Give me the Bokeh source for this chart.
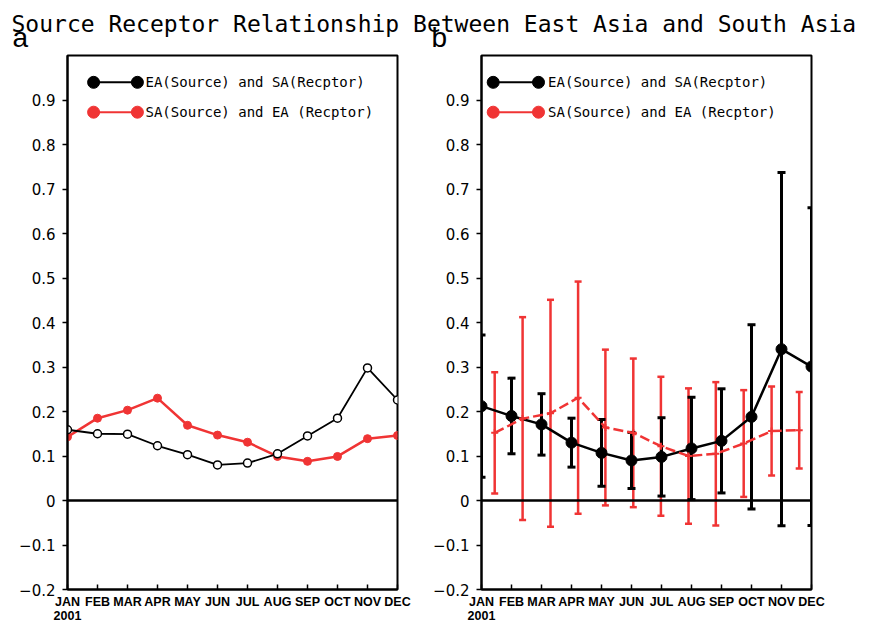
import numpy as np
from bokeh.plotting import figure
from bokeh.models import Range1d, FixedTicker, Span, Label
from bokeh.layouts import column, row
from bokeh.embed import file_html
from bokeh.resources import INLINE

TITLE = "Source Receptor Relationship Between East Asia and South Asia"
MONTHS = [1, 2, 3, 4, 5, 6, 7, 8, 9, 10, 11, 12]
MONTH_LABELS = ["JAN", "FEB", "MAR", "APR", "MAY", "JUN", "JUL", "AUG", "SEP", "OCT", "NOV", "DEC"]
YEAR_LABEL = "2001"
Y_TICKS = [-0.2, -0.1, 0, 0.1, 0.2, 0.3, 0.4, 0.5, 0.6, 0.7, 0.8, 0.9]
Y_TICK_LABELS = ["\u22120.2", "\u22120.1", "0", "0.1", "0.2", "0.3", "0.4", "0.5", "0.6", "0.7", "0.8", "0.9"]
SERIES_EA = "EA(Source) and SA(Recptor)"
SERIES_SA = "SA(Source) and EA (Recptor)"
PANEL_NAMES = ["a", "b"]

# panel a
a_ea = [0.159, 0.150, 0.149, 0.123, 0.103, 0.080, 0.084, 0.105, 0.145, 0.185, 0.298, 0.226]
a_sa = [0.143, 0.185, 0.203, 0.230, 0.169, 0.147, 0.131, 0.099, 0.088, 0.099, 0.139, 0.146]

# panel b
b_ea_mean = [0.212, 0.190, 0.171, 0.130, 0.107, 0.090, 0.098, 0.117, 0.134, 0.188, 0.340, 0.301]
b_ea_err = [0.160, 0.085, 0.069, 0.055, 0.075, 0.063, 0.088, 0.115, 0.117, 0.207, 0.397, 0.357]
b_sa_x = [1.44, 2.37, 3.30, 4.22, 5.13, 6.06, 6.98, 7.90, 8.81, 9.74, 10.67, 11.59]
b_sa_mean = [0.152, 0.184, 0.196, 0.231, 0.164, 0.152, 0.122, 0.100, 0.105, 0.128, 0.156, 0.158]
b_sa_err = [0.136, 0.228, 0.255, 0.261, 0.175, 0.167, 0.156, 0.152, 0.161, 0.120, 0.100, 0.086]

RED = "#f03434"
BLACK = "black"
TITLE_H = 54
PANEL_H = 571

# decoration positions (data units)
LEG_Y_EA = 0.9397
LEG_Y_SA = 0.8726
LEG_A = dict(x0=1.87, x1=3.33, xt=3.60)
LEG_B = dict(x0=1.39, x1=2.90, xt=3.22)


def make_panel(width, bl, br):
    p = figure(width=width, height=PANEL_H, x_range=Range1d(1, 12), y_range=Range1d(-0.2, 1.0),
               output_backend="svg", toolbar_location=None, title=None,
               min_border_left=bl, min_border_right=br, min_border_top=1, min_border_bottom=33)
    p.grid.visible = False
    p.outline_line_color = "black"
    p.outline_line_width = 2
    xa = p.xaxis[0]
    xa.ticker = FixedTicker(ticks=MONTHS)
    labels = list(MONTH_LABELS)
    labels[0] = labels[0] + "\n" + YEAR_LABEL
    xa.major_label_overrides = dict(zip(MONTHS, labels))
    xa.major_tick_in = 5
    xa.major_tick_out = 0
    xa.minor_tick_line_color = None
    xa.axis_line_width = 2
    xa.major_tick_line_width = 1.5
    xa.major_label_text_font = "Liberation Sans"
    xa.major_label_text_font_style = "bold"
    xa.major_label_text_font_size = "12.5px"
    xa.major_label_text_color = "black"
    xa.major_label_text_line_height = 1.0
    xa.major_label_standoff = 5
    ya = p.yaxis[0]
    ya.ticker = FixedTicker(ticks=Y_TICKS)
    ya.major_label_overrides = dict(zip(Y_TICKS, Y_TICK_LABELS))
    ya.major_tick_in = 0
    ya.major_tick_out = 5
    ya.minor_tick_line_color = None
    ya.axis_line_width = 2
    ya.major_tick_line_width = 1.5
    ya.major_label_text_font = "DejaVu Sans"
    ya.major_label_text_font_size = "15px"
    ya.major_label_text_color = "black"
    ya.major_label_standoff = 7
    p.add_layout(Span(location=0, dimension="width", line_color="black", line_width=2.5))
    return p


def legend(p, pos):
    for yy, col, lab in [(LEG_Y_EA, BLACK, SERIES_EA), (LEG_Y_SA, RED, SERIES_SA)]:
        p.line([pos["x0"], pos["x1"]], [yy, yy], line_color=col, line_width=2)
        p.scatter([pos["x0"], pos["x1"]], [yy, yy], size=12, fill_color=col, line_color=col)
        p.add_layout(Label(x=pos["xt"], y=yy, text=lab, text_baseline="middle", text_align="left",
                           text_color="black", text_font="DejaVu Sans Mono", text_font_size="14px"))


# title strip (title + panel letters); y measured from the top
t = figure(width=869, height=TITLE_H, x_range=Range1d(0, 869), y_range=Range1d(TITLE_H, 0),
           output_backend="svg", toolbar_location=None, min_border=0, title=None,
           x_axis_location=None, y_axis_location=None)
t.grid.visible = False
t.outline_line_color = None
t.add_layout(Label(x=11, y=23, text=TITLE, text_font="DejaVu Sans Mono", text_font_size="23px",
                   text_color="black", text_baseline="middle"))
for px, name in zip([12, 431], PANEL_NAMES):
    t.add_layout(Label(x=px, y=37, text=name, text_font="Liberation Sans", text_font_size="28px",
                       text_color="black", text_baseline="middle"))

# panel a
pa = make_panel(430, 67, 33)
pa.line(MONTHS, a_sa, line_color=RED, line_width=2.5)
pa.scatter(MONTHS, a_sa, size=8, fill_color=RED, line_color=RED)
pa.line(MONTHS, a_ea, line_color=BLACK, line_width=1.8)
pa.scatter(MONTHS, a_ea, size=8, fill_color="white", line_color=BLACK, line_width=1.5)
legend(pa, LEG_A)

# panel b
pb = make_panel(439, 50, 58)
m = np.array(b_sa_mean); e = np.array(b_sa_err)
pb.segment(b_sa_x, m - e, b_sa_x, m + e, line_color=RED, line_width=2.5)
pb.scatter(b_sa_x + b_sa_x, list(m - e) + list(m + e), marker="dash", size=7, line_color=RED, line_width=2.5)
mb = np.array(b_ea_mean); eb = np.array(b_ea_err)
pb.segment(MONTHS, mb - eb, MONTHS, mb + eb, line_color=BLACK, line_width=3)
pb.scatter(MONTHS + MONTHS, list(mb - eb) + list(mb + eb), marker="dash", size=8, line_color=BLACK, line_width=3)
pb.line(MONTHS, b_ea_mean, line_color=BLACK, line_width=2.5)
pb.scatter(MONTHS, b_ea_mean, size=11, fill_color=BLACK, line_color=BLACK)
pb.line(b_sa_x, b_sa_mean, line_color=RED, line_width=2.5, line_dash="10 4")
pb.scatter(b_sa_x, b_sa_mean, marker="cross", size=7, line_color=RED, line_width=2)
legend(pb, LEG_B)

layout = column(t, row(pa, pb))
open("out.html", "w").write(file_html(layout, INLINE))
